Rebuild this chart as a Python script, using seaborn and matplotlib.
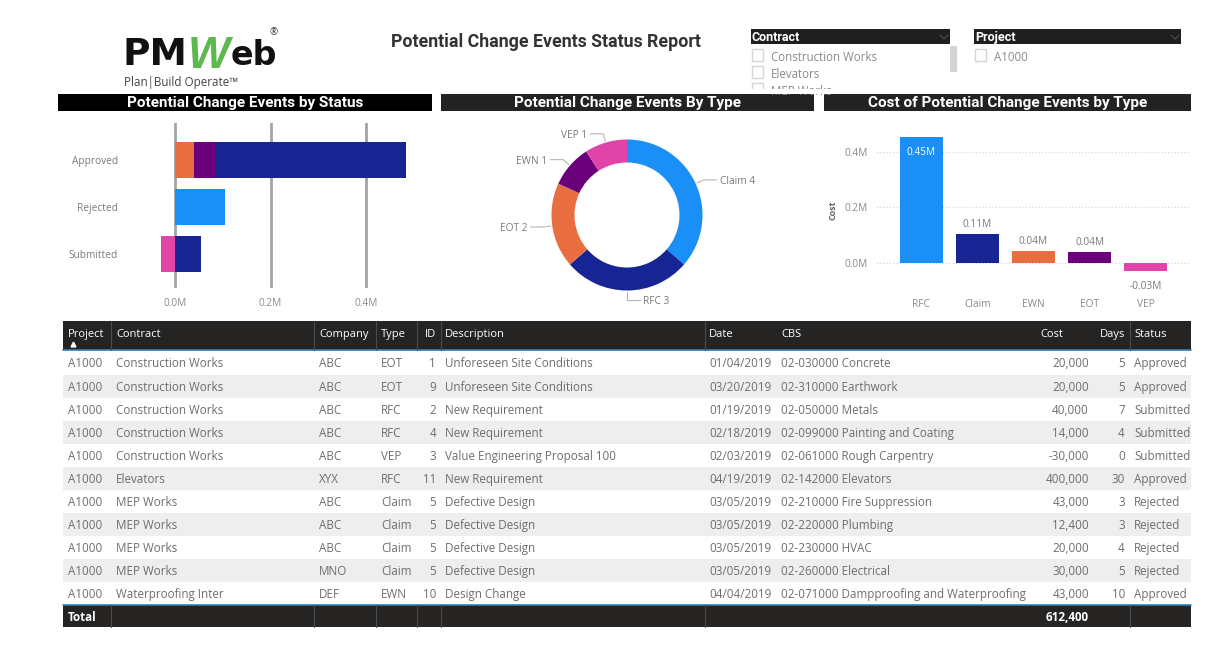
# Potential change events dashboard
import matplotlib
matplotlib.use("Agg")
import matplotlib.pyplot as plt
from matplotlib.patches import Rectangle
import numpy as np
import pandas as pd
import seaborn as sns

W, H = 1225, 659

TYPE_COLORS = {"RFC": "#1A8FF7", "Claim": "#172594", "EWN": "#E86D41", "EOT": "#6B007B", "VEP": "#E044A7"}

# stacked bars, segments in drawing order
STATUS = ["Approved", "Rejected", "Submitted"]
SEG_APPROVED = [40000, 43000, 400000]
SEG_APPROVED_COLORS = ["#E86D41", "#6B007B", "#172594"]
REJECTED_COST = 105400
SUBMITTED_POS = 54000
SUBMITTED_NEG = -30000

# donut
DONUT_TYPES = ["Claim", "RFC", "EOT", "EWN", "VEP"]
DONUT_COUNTS = [4, 3, 2, 1, 1]
DONUT_COLORS = ["#1A8FF7", "#172594", "#E86D41", "#6B007B", "#E044A7"]

# columns
COST_TYPES = ["RFC", "Claim", "EWN", "EOT", "VEP"]
COST_VALUES = [454000, 105400, 43000, 40000, -30000]
COST_LABELS = ["0.45M", "0.11M", "0.04M", "0.04M", "-0.03M"]

# table
HEADERS = ["Project", "Contract", "Company", "Type", "ID", "Description", "Date", "CBS", "Cost", "Days", "Status"]
PROJECT = ["A1000"] * 11
CONTRACT = ["Construction Works"] * 5 + ["Elevators"] + ["MEP Works"] * 4 + ["Waterproofing Inter"]
COMPANY = ["ABC", "ABC", "ABC", "ABC", "ABC", "XYX", "ABC", "ABC", "ABC", "MNO", "DEF"]
TYPES = ["EOT", "EOT", "RFC", "RFC", "VEP", "RFC", "Claim", "Claim", "Claim", "Claim", "EWN"]
IDS = ["1", "9", "2", "4", "3", "11", "5", "5", "5", "5", "10"]
DESCR = ["Unforeseen Site Conditions", "Unforeseen Site Conditions", "New Requirement", "New Requirement",
         "Value Engineering Proposal 100", "New Requirement", "Defective Design", "Defective Design",
         "Defective Design", "Defective Design", "Design Change"]
DATES = ["01/04/2019", "03/20/2019", "01/19/2019", "02/18/2019", "02/03/2019", "04/19/2019",
         "03/05/2019", "03/05/2019", "03/05/2019", "03/05/2019", "04/04/2019"]
CBS = ["02-030000 Concrete", "02-310000 Earthwork", "02-050000 Metals", "02-099000 Painting and Coating",
       "02-061000 Rough Carpentry", "02-142000 Elevators", "02-210000 Fire Suppression", "02-220000 Plumbing",
       "02-230000 HVAC", "02-260000 Electrical", "02-071000 Dampproofing and Waterproofing"]
COSTS = ["20,000", "20,000", "40,000", "14,000", "-30,000", "400,000", "43,000", "12,400", "20,000", "30,000", "43,000"]
DAYS = ["5", "5", "7", "4", "0", "30", "3", "3", "4", "5", "10"]
ROW_STATUS = ["Approved", "Approved", "Submitted", "Submitted", "Submitted", "Approved",
              "Rejected", "Rejected", "Rejected", "Rejected", "Approved"]
TOTAL_COST = "612,400"

sns.set_theme(style="white")
plt.rcParams["font.family"] = ["Open Sans", "DejaVu Sans"]

GREY = "#6e6e6e"
NARROW = ["Liberation Sans Narrow", "Roboto", "DejaVu Sans"]


def axes_px(fig, left, top, right, bottom):
    return fig.add_axes([left / W, 1 - bottom / H, (right - left) / W, (bottom - top) / H])


fig = plt.figure(figsize=(W / 100, H / 100), dpi=100)
bg = fig.add_axes([0, 0, 1, 1])
bg.set_xlim(0, W)
bg.set_ylim(H, 0)
bg.axis("off")


def box(x0, y0, x1, y1, color, **kw):
    bg.add_patch(Rectangle((x0, y0), x1 - x0, y1 - y0, facecolor=color, edgecolor="none", **kw))


# logo
bg.text(123, 65, "PM", fontsize=27, fontweight="bold", color="#111111", va="baseline", family="DejaVu Sans")
bg.text(188, 68, "W", fontsize=32, fontweight="bold", fontstyle="italic", color="#5DB84E", va="baseline", family="Liberation Sans")
bg.text(231, 65, "eb", fontsize=24, fontweight="bold", color="#111111", va="baseline", family="DejaVu Sans")
bg.text(270, 33, "®", fontsize=7, color="#333333", va="center")
bg.text(124, 86, "Plan|Build Operate™", fontsize=8.4, color="#444444", va="baseline")

bg.text(391, 42, "Potential Change Events Status Report", fontsize=12.8, fontweight="bold", color="#333333",
        va="center", family=["Roboto", "DejaVu Sans"])

# slicers
for x0, x1, name in [(751, 950, "Contract"), (974, 1181, "Project")]:
    box(x0, 29, x1, 44, "#1f1f1f")
    bg.text(x0 + 1, 41, name, color="white", fontsize=9, fontweight="bold", va="baseline", family=NARROW)
    bg.plot([x1 - 10, x1 - 6, x1 - 2], [35, 39, 35], color="#555555", lw=0.7)
for y, name in [(56, "Construction Works"), (73, "Elevators"), (90, "MEP Works")]:
    bg.add_patch(Rectangle((752, y - 7), 11, 12, facecolor="white", edgecolor="#d5d5d5", lw=1))
    bg.text(771, y + 5, name, color="#8a8a8a", fontsize=8.3, va="baseline")
box(950, 46, 957, 72, "#d4d4d4")
box(745, 89, 960, 94, "white", zorder=3)
bg.add_patch(Rectangle((975, 49), 11, 12, facecolor="white", edgecolor="#d5d5d5", lw=1))
bg.text(994, 61, "A1000", color="#8a8a8a", fontsize=8.3, va="baseline")

# panel title bars
for x0, x1, col, name in [(58, 432, "#000000", "Potential Change Events by Status"),
                          (441, 814, "#222222", "Potential Change Events By Type"),
                          (824, 1191, "#222222", "Cost of Potential Change Events by Type")]:
    box(x0, 94, x1, 111, col)
    bg.text((x0 + x1) / 2 + 0.5, 107, name, color="white", fontsize=11, fontweight="bold",
            ha="center", va="baseline", family=NARROW)

# stacked bars by status
ax = axes_px(fig, 150, 123, 420, 288)
ax.patch.set_alpha(0)
ax.set_axisbelow(True)
bar_kw = dict(order=STATUS, width=0.76, saturation=1, linewidth=0, ax=ax)
left = 0
for val, col in zip(SEG_APPROVED, SEG_APPROVED_COLORS):
    sns.barplot(x=[val], y=[STATUS[0]], color=col, left=left, **bar_kw)
    left += val
sns.barplot(x=[REJECTED_COST], y=[STATUS[1]], color="#1A8FF7", **bar_kw)
sns.barplot(x=[SUBMITTED_POS], y=[STATUS[2]], color="#172594", **bar_kw)
sns.barplot(x=[SUBMITTED_NEG], y=[STATUS[2]], color="#E044A7", **bar_kw)
ax.set_xlim(-25 / 477.5 * 1e6, 245 / 477.5 * 1e6)
ax.set_ylim(2.72, -0.787)
ax.set_xticks([0, 200000, 400000], ["0.0M", "0.2M", "0.4M"])
ax.xaxis.grid(True, color="#a3a3a3", lw=2)
ax.yaxis.grid(False)
ax.set_xlabel("")
ax.set_ylabel("")
sns.despine(ax=ax, left=True, bottom=True)
ax.tick_params(axis="x", length=0, pad=7, labelsize=7.3, labelcolor="#8a8a8a")
ax.tick_params(axis="y", length=0, pad=23, labelsize=7.3, labelcolor="#7a7a7a")

# donut by type
ax2 = axes_px(fig, 487, 125, 767, 305)
R_PX = 75.5
ax2.pie(DONUT_COUNTS, colors=DONUT_COLORS, startangle=90, counterclock=False, radius=1,
        wedgeprops=dict(width=23 / R_PX, edgecolor="none"))
ax2.set_xlim(-140 / R_PX, 140 / R_PX)
ax2.set_ylim(-90 / R_PX, 90 / R_PX)
total = sum(DONUT_COUNTS)
cum = 0
for name, n in zip(DONUT_TYPES, DONUT_COUNTS):
    ang = np.pi * 2 * (cum + n / 2) / total
    cum += n
    sx, cy = np.sin(ang), np.cos(ang)
    side = 1 if sx > -1e-6 else -1
    ex, ey = 1.12 * sx, 1.12 * cy
    ax2.plot([1.02 * sx, ex, ex + side * 0.17], [1.02 * cy, ey, ey], color="#b5b5b5", lw=0.8)
    ax2.text(ex + side * 0.21, ey - 0.02, f"{name} {n}", ha="left" if side > 0 else "right", va="center",
             fontsize=7.3, color="#7a7a7a")

# column chart of cost by type
ax3 = axes_px(fig, 876, 125, 1190, 295)
ax3.patch.set_alpha(0)
cost_df = pd.DataFrame({"type": COST_TYPES, "cost": COST_VALUES})
sns.barplot(data=cost_df, x="type", y="cost", hue="type", palette=TYPE_COLORS, legend=False,
            order=COST_TYPES, width=0.77, saturation=1, linewidth=0, ax=ax3)
for cont, lab, val in zip(ax3.containers, COST_LABELS, COST_VALUES):
    inside = val > 300000
    pad = -15 if inside else (7 if val < 0 else 3)
    ax3.bar_label(cont, labels=[lab], padding=pad, fontsize=7.3, color="white" if inside else "#7a7a7a")
ax3.set_xlim(-0.81, 4.79)
ax3.set_ylim(-0.115e6, 0.496e6)
ax3.set_yticks([0, 200000, 400000], ["0.0M", "0.2M", "0.4M"])
ax3.set_axisbelow(True)
ax3.yaxis.grid(True, color="#d8d8d8", lw=0.9, linestyle=":")
ax3.xaxis.grid(False)
ax3.set_xlabel("")
ax3.set_ylabel("Cost", fontsize=6.5, fontweight="bold", color="#666666", labelpad=5)
sns.despine(ax=ax3, left=True, bottom=True)
ax3.tick_params(axis="x", length=0, pad=3, labelsize=7.3, labelcolor="#8a8a8a")
ax3.tick_params(axis="y", length=0, pad=6, labelsize=7.3, labelcolor="#8a8a8a")

# table
T_LEFT, T_RIGHT = 63, 1191
HEAD_TOP, HEAD_BOT = 321, 350
ROW_Y = [363, 387, 410, 433, 456, 479, 502, 525, 548, 571, 594]
TOTAL_TOP, TOTAL_BOT = 605, 627
COL_X = [68, 116, 319, 381, 436, 445, 709, 781, 1089, 1125, 1134]
HEAD_X = [68, 116, 319, 381, 436, 445, 709, 781, 1063, 1125, 1134]
COL_HA = ["left", "left", "left", "left", "right", "left", "left", "left", "right", "right", "left"]
SEPS = [111, 314, 376, 417, 440.5, 705, 1130]
COLS = [PROJECT, CONTRACT, COMPANY, TYPES, IDS, DESCR, DATES, CBS, COSTS, DAYS, ROW_STATUS]

for i, y in enumerate(ROW_Y):
    if i % 2 == 1:
        box(T_LEFT, y - 12, T_RIGHT, y + 11, "#EEEEEE")
box(T_LEFT, HEAD_TOP, T_RIGHT, HEAD_BOT, "#252423")
box(T_LEFT, TOTAL_TOP, T_RIGHT, TOTAL_BOT, "#252423")
bg.plot([T_LEFT, T_RIGHT], [HEAD_BOT, HEAD_BOT], color="#2F7FB8", lw=1.2)
bg.plot([T_LEFT, T_RIGHT], [TOTAL_TOP, TOTAL_TOP], color="#2F7FB8", lw=1.2)
for x in SEPS:
    bg.plot([x, x], [HEAD_TOP, HEAD_BOT], color="#4a4a4a", lw=0.8)
    bg.plot([x, x], [TOTAL_TOP, TOTAL_BOT], color="#4a4a4a", lw=0.8)

for x, hx, ha, head, col in zip(COL_X, HEAD_X, COL_HA, HEADERS, COLS):
    bg.text(hx, 337, head, color="white", fontsize=8, ha=ha, va="baseline")
    for y, val in zip(ROW_Y, col):
        bg.text(x, y + 4, val, color=GREY, fontsize=8.4, ha=ha, va="baseline")
bg.plot([72.5], [343.5], marker="^", color="white", markersize=3.5)
bg.text(COL_X[0], 621, "Total", color="white", fontsize=8.4, fontweight="bold", va="baseline")
bg.text(COL_X[8], 621, TOTAL_COST, color="white", fontsize=8.4, fontweight="bold", ha="right", va="baseline")

fig.savefig("out.png", dpi=100, facecolor="white")
